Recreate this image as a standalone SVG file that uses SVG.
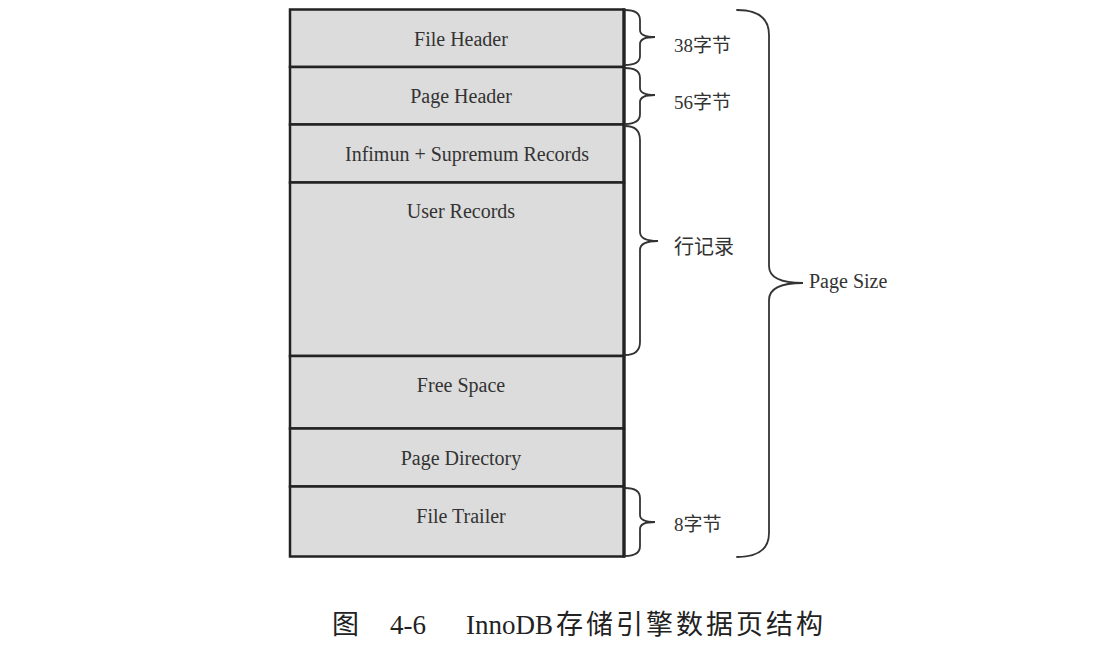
<svg xmlns="http://www.w3.org/2000/svg" width="1117" height="663" viewBox="0 0 1117 663">
<style>
.cell{fill:#dcdcdc;stroke:#222;stroke-width:2.5}
.lbl{font-family:"Liberation Serif","Times New Roman",serif;font-size:20px;fill:#333;text-anchor:middle}
.side{font-family:"Liberation Serif","Noto Sans CJK SC",serif;font-size:19px;fill:#333}
.brace{fill:none;stroke:#333;stroke-width:1.8;stroke-linecap:round}
.cap{font-family:"Liberation Serif","Noto Sans CJK SC",serif;font-size:27px;fill:#222}
</style>
<rect x="0" y="0" width="1117" height="663" fill="#fff"/>
<g id="file-header"><rect class="cell" x="290" y="9.5" width="334" height="57.5"/><text class="lbl" x="461" y="46">File Header</text></g>
<g id="page-header"><rect class="cell" x="290" y="67" width="334" height="57.5"/><text class="lbl" x="461" y="103">Page Header</text></g>
<g id="infimum-supremum"><rect class="cell" x="290" y="124.5" width="334" height="58"/><text class="lbl" x="467" y="161">Infimun + Supremum Records</text></g>
<g id="user-records"><rect class="cell" x="290" y="182.5" width="334" height="173.5"/><text class="lbl" x="461" y="218">User Records</text></g>
<g id="free-space"><rect class="cell" x="290" y="356" width="334" height="72.5"/><text class="lbl" x="461" y="392">Free Space</text></g>
<g id="page-directory"><rect class="cell" x="290" y="428.5" width="334" height="58"/><text class="lbl" x="461" y="465">Page Directory</text></g>
<g id="file-trailer"><rect class="cell" x="290" y="486.5" width="334" height="70"/><text class="lbl" x="461" y="523">File Trailer</text></g>
<line x1="624" y1="8.5" x2="624" y2="557.5" stroke="#222" stroke-width="3.2"/>
<g id="braces">
<path class="brace" d="M625,10 Q640,10 640,20 L640,30 Q640,37 655,37 Q640,37 640,44 L640,56 Q640,65 625,65"/>
<path class="brace" d="M625,68 Q640,68 640,78 L640,88 Q640,95 655,95 Q640,95 640,102 L640,114 Q640,124 625,124"/>
<path class="brace" d="M625,126 Q640,126 640,140 L640,232 Q640,241 658,241 Q640,241 640,250 L640,342 Q640,355 625,355"/>
<path class="brace" d="M625,488 Q640,488 640,498 L640,515 Q640,522 655,522 Q640,522 640,529 L640,546 Q640,556 625,556"/>
<path class="brace" d="M737,10 Q769,10 769,35 L769,266 Q769,283 803,283 Q769,283 769,300 L769,533 Q769,557 737,557"/>
</g>
<g id="labels">
<text class="side" x="674" y="52">38字节</text>
<text class="side" x="674" y="109">56字节</text>
<text class="side" x="674" y="254" style="font-size:20px">行记录</text>
<text class="side" x="809" y="288" style="font-size:20px">Page Size</text>
<text class="side" x="674" y="531">8字节</text>
</g>
<g id="caption">
<text class="cap" y="634"><tspan x="332">图</tspan><tspan x="390">4-6</tspan><tspan x="466">InnoDB</tspan><tspan x="556" letter-spacing="3">存储引擎数据页结构</tspan></text>
</g>
</svg>
